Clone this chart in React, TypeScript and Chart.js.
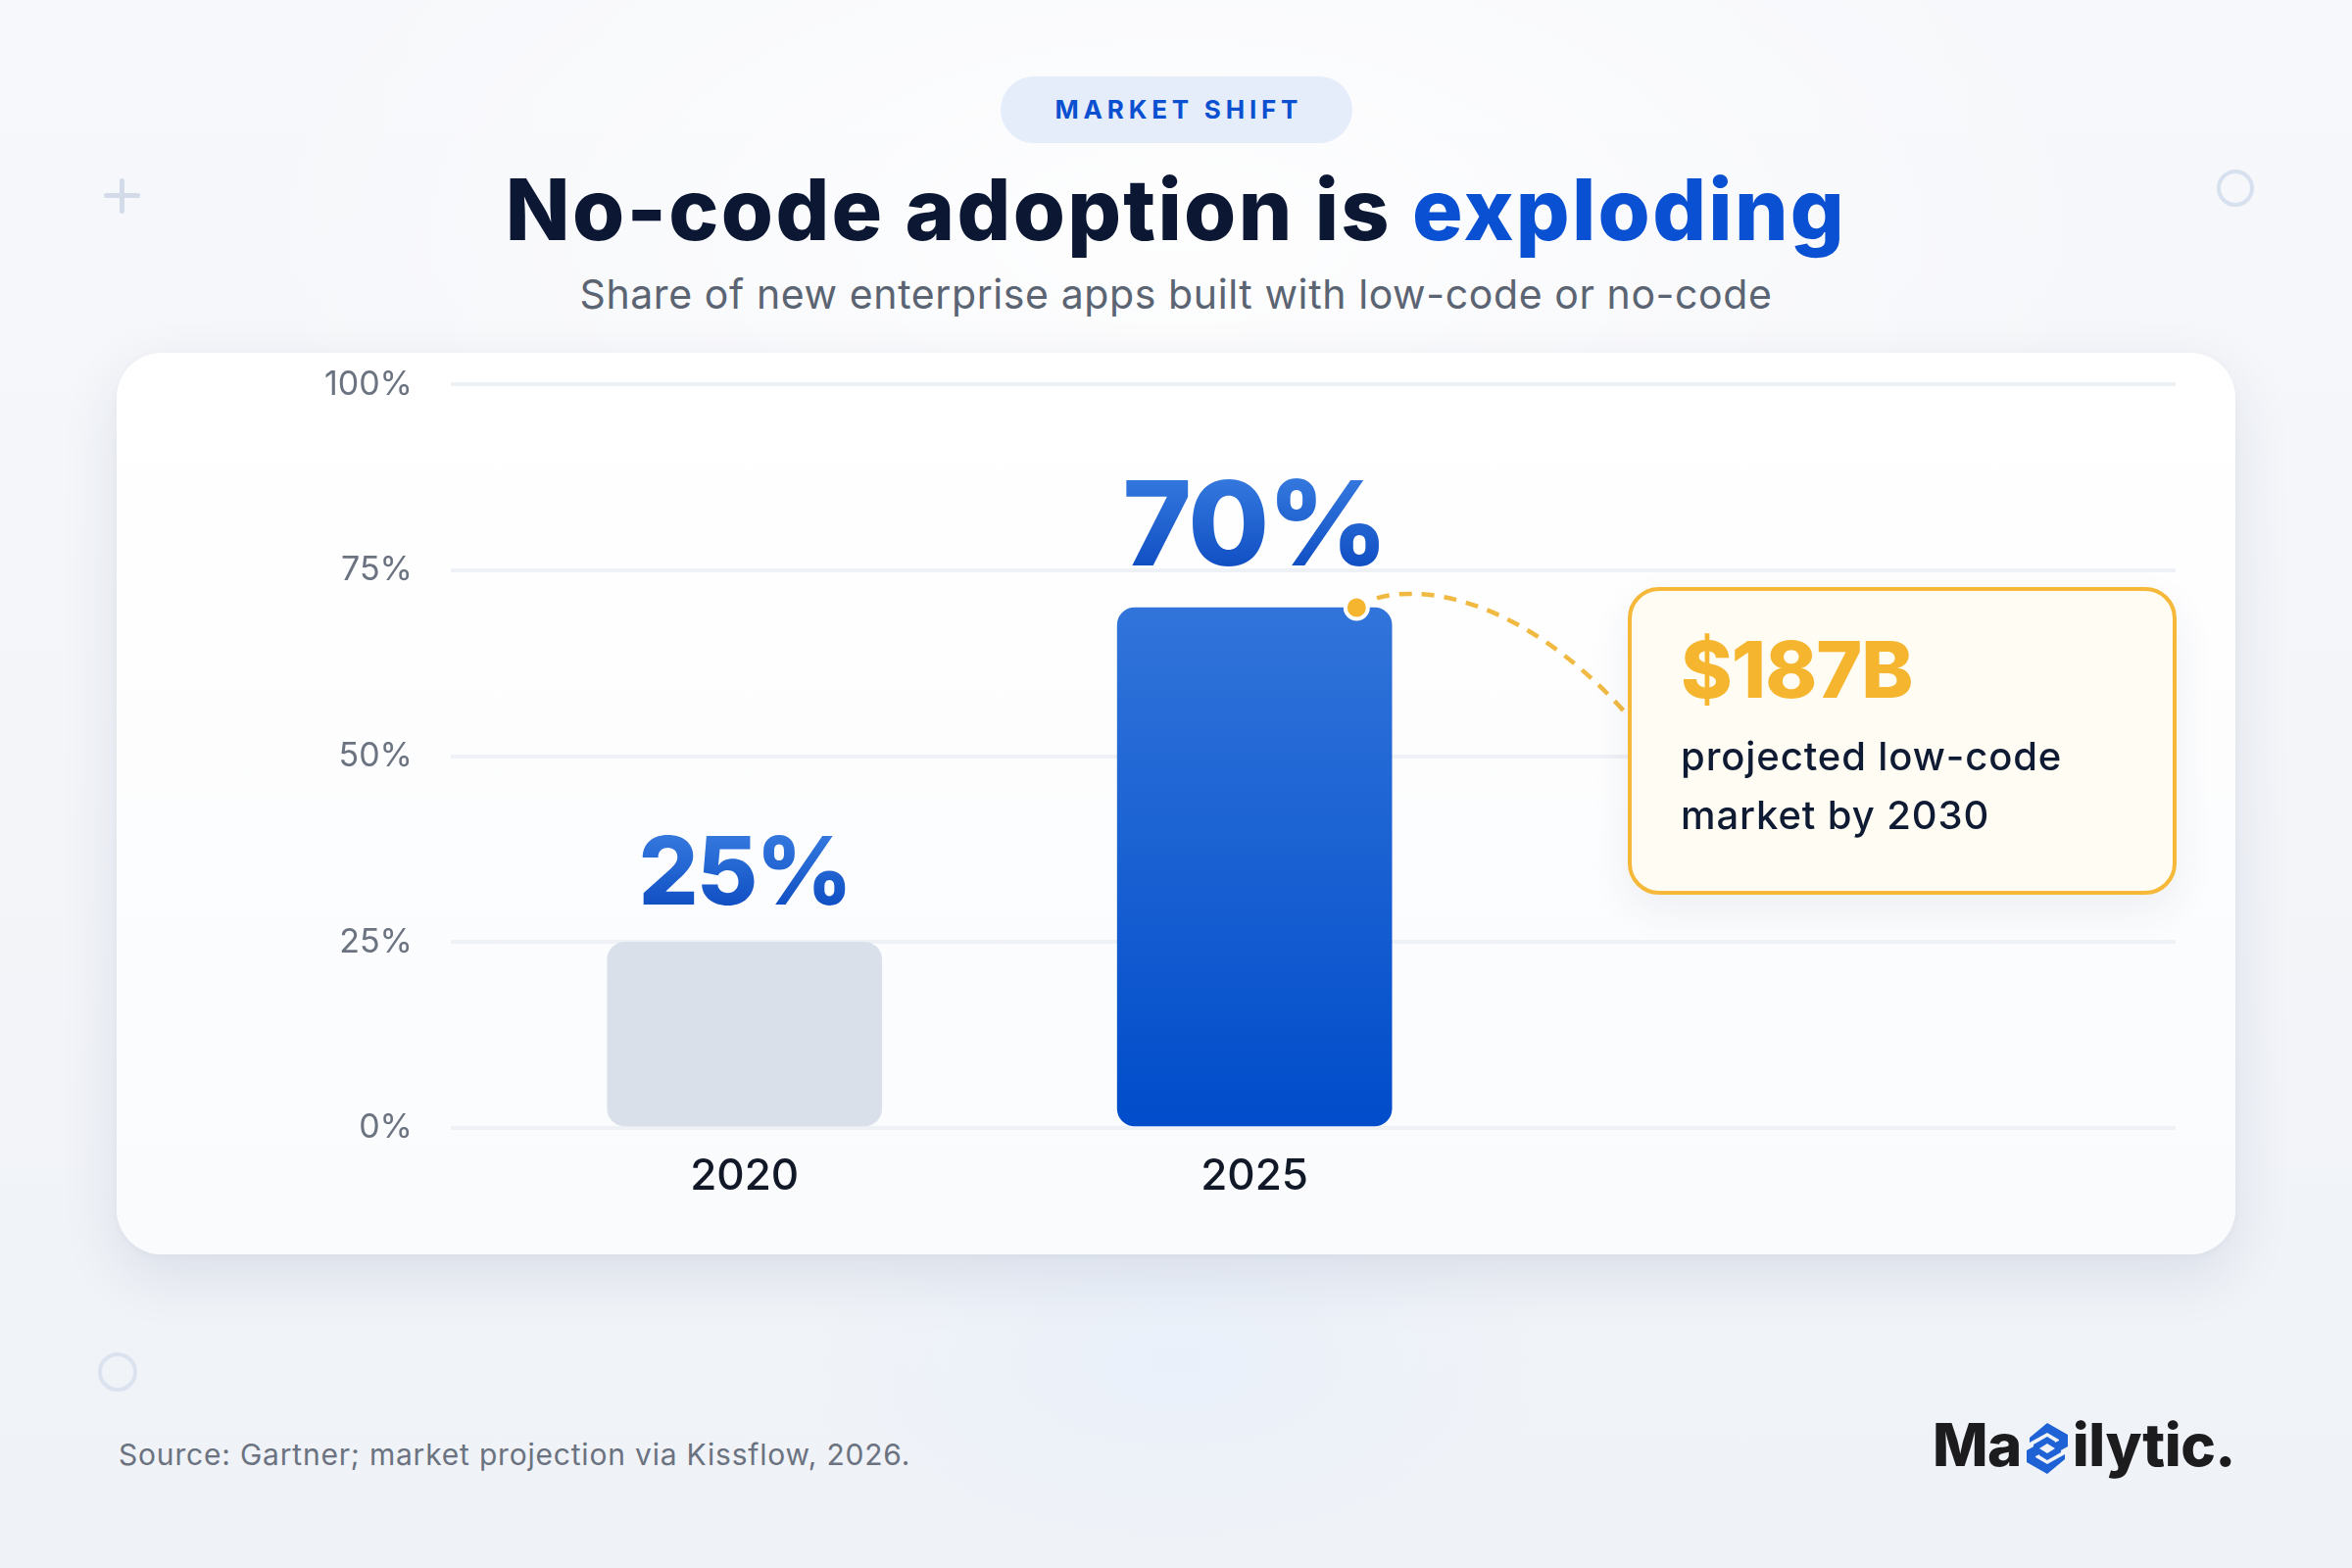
import React, { useEffect, useRef } from 'react';
import { Chart, registerables } from 'chart.js';

Chart.register(...registerables);

// ---- data ----
const years = [2020, 2025];
const yearLabels = ['2020', '2025'];
const shareOfNewApps = [25, 70];
const valueLabels = ['25%', '70%'];
const yTickValues = [0, 25, 50, 75, 100];
const xRange = [2017.12, 2034.03];
const calloutValue = '$187B';
const calloutLines = ['projected low-code', 'market by 2030'];

// ---- styles / layout ----
const FONT = 'Inter, "Noto Sans", sans-serif';
const CARD = { left: 119, top: 360, width: 2162, height: 920 };
const CANVAS = { left: 119, top: 333, width: 2162, height: 947 };
const CALLOUT = { left: 1661, top: 599, width: 560, height: 314 };
const CONNECTOR_END_Y = 730;
const valueLabelSizes = [96, 120];
const valueLabelGaps = [38, 43];

const valueLabelPlugin = {
  id: 'valueLabels',
  afterDatasetsDraw(chart: any) {
    const ctx = chart.ctx;
    const meta = chart.getDatasetMeta(0);
    meta.data.forEach((bar: any, i: number) => {
      const size = valueLabelSizes[i];
      const y = bar.y - valueLabelGaps[i];
      ctx.save();
      ctx.font = `800 ${size}px ${FONT}`;
      ctx.textAlign = 'center';
      ctx.textBaseline = 'alphabetic';
      try { ctx.letterSpacing = '-2px'; } catch (e) {}
      const g = ctx.createLinearGradient(0, y - size * 0.74, 0, y);
      g.addColorStop(0, '#3478de');
      g.addColorStop(1, '#1150c4');
      ctx.fillStyle = g;
      ctx.fillText(valueLabels[i], bar.x, y);
      ctx.restore();
    });
  },
};

const connectorPlugin = {
  id: 'connector',
  afterDatasetsDraw(chart: any) {
    const ctx = chart.ctx;
    const bar: any = chart.getDatasetMeta(0).data[1];
    if (!bar) return;
    const sx = bar.x + bar.width * 0.372;
    const sy = bar.y;
    const ex = CALLOUT.left - CANVAS.left;
    const ey = CONNECTOR_END_Y - CANVAS.top;
    ctx.save();
    ctx.beginPath();
    ctx.moveTo(sx, sy);
    ctx.bezierCurveTo(sx + 40, sy - 28, ex - 120, ey - 135, ex, ey);
    ctx.setLineDash([13, 10]);
    ctx.lineWidth = 4.5;
    ctx.strokeStyle = '#f0b942';
    ctx.stroke();
    ctx.setLineDash([]);
    ctx.beginPath();
    ctx.arc(sx, sy, 11.5, 0, Math.PI * 2);
    ctx.fillStyle = '#f5b52e';
    ctx.fill();
    ctx.lineWidth = 4;
    ctx.strokeStyle = '#ffffff';
    ctx.stroke();
    ctx.restore();
  },
};

function ChartCanvas() {
  const ref = useRef<HTMLCanvasElement | null>(null);
  useEffect(() => {
    const canvas = ref.current;
    if (!canvas) return;
    const chart = new Chart(canvas, {
      type: 'bar',
      data: {
        datasets: [
          {
            data: years.map((x, i) => ({ x, y: shareOfNewApps[i] })) as any,
            backgroundColor: (c: any) => {
              if (c.dataIndex === 0) return '#d9e0ea';
              const ch = c.chart;
              const ca = ch.chartArea;
              if (!ca) return '#1a5fd2';
              const top = ch.scales.y.getPixelForValue(shareOfNewApps[c.dataIndex]);
              const g = ch.ctx.createLinearGradient(0, top, 0, ca.bottom);
              g.addColorStop(0, '#3174da');
              g.addColorStop(1, '#004cca');
              return g;
            },
            borderRadius: 18,
            borderSkipped: false,
            barThickness: 280,
          },
        ],
      },
      options: {
        animation: false,
        responsive: false,
        devicePixelRatio: 1,
        layout: { padding: { top: 0, right: 61, left: 0, bottom: 0 } },
        plugins: { legend: { display: false }, tooltip: { enabled: false } },
        scales: {
          x: {
            type: 'linear',
            offset: false,
            min: xRange[0],
            max: xRange[1],
            grid: { display: false },
            border: { display: false },
            afterBuildTicks: (s: any) => {
              s.ticks = years.map((v) => ({ value: v }));
            },
            afterFit: (s: any) => {
              s.height = 129;
            },
            ticks: {
              padding: 15,
              autoSkip: false,
              maxRotation: 0,
              font: { size: 44, weight: 500 as any, family: FONT },
              color: '#111827',
              callback: (v: any) => {
                const i = years.indexOf(Number(v));
                return i >= 0 ? yearLabels[i] : '';
              },
            },
          },
          y: {
            min: 0,
            max: 100,
            afterBuildTicks: (s: any) => {
              s.ticks = yTickValues.map((v) => ({ value: v }));
            },
            afterFit: (s: any) => {
              s.width = 341;
            },
            grid: { color: '#eef1f6', lineWidth: 4, drawTicks: false },
            border: { display: false },
            ticks: {
              padding: 39,
              font: { size: 34, weight: 400 as any, family: FONT },
              color: '#6b7280',
              callback: (v: any) => `${v}%`,
            },
          },
        },
      },
      plugins: [valueLabelPlugin, connectorPlugin],
    });
    return () => chart.destroy();
  }, []);
  return (
    <canvas
      ref={ref}
      width={CANVAS.width}
      height={CANVAS.height}
      style={{ position: 'absolute', left: CANVAS.left, top: CANVAS.top, width: CANVAS.width, height: CANVAS.height }}
    />
  );
}

function LogoMark() {
  return (
    <svg width="48" height="54" viewBox="0 0 48 54" style={{ display: 'inline-block', verticalAlign: 'baseline', margin: '0 2px', position: 'relative', top: 9 }}>
      <path d="M24 1 L45 13 L45 25 L36 30 L36 18 L24 11 L6 21 L6 16 Z" fill="#1f62d6" />
      <path d="M10 23 L24 15 L32 20 L32 27 L24 22 L16 27 L16 33 L10 36 Z" fill="#1f62d6" />
      <path d="M24 53 L3 41 L3 29 L12 24 L12 36 L24 43 L42 33 L42 38 Z" fill="#1f62d6" />
      <path d="M38 31 L24 39 L16 34 L16 27 L24 32 L32 27 L32 21 L38 18 Z" fill="#1f62d6" />
    </svg>
  );
}

export default function App() {
  const abs = (o: any): React.CSSProperties => ({ position: 'absolute', whiteSpace: 'nowrap', margin: 0, ...o });
  return (
    <div
      style={{
        position: 'absolute',
        left: 0,
        top: 0,
        width: 2400,
        height: 1600,
        overflow: 'hidden',
        fontFamily: FONT,
        background:
          'radial-gradient(ellipse 380px 200px at 50% 1390px, rgba(233,240,250,0.9), rgba(233,240,250,0) 100%), radial-gradient(ellipse 1400px 700px at 50% 15%, rgba(255,255,255,0.85), rgba(255,255,255,0) 70%), linear-gradient(180deg, #f7f8fb 0%, #eff2f7 100%)',
      }}
    >
      {/* decorations */}
      <div style={abs({ left: 122, top: 182, width: 5, height: 36, background: '#d3dbe8', borderRadius: 3 })} />
      <div style={abs({ left: 106, top: 197, width: 37, height: 5, background: '#d3dbe8', borderRadius: 3 })} />
      <div style={abs({ left: 2262, top: 173, width: 38, height: 38, border: '4px solid #d7e0ee', borderRadius: '50%', boxSizing: 'border-box' })} />
      <div style={abs({ left: 100, top: 1380, width: 40, height: 40, border: '4px solid #dbe3f0', borderRadius: '50%', boxSizing: 'border-box' })} />

      {/* pill */}
      <div
        style={abs({
          left: 1021,
          top: 78,
          width: 359,
          height: 68,
          borderRadius: 34,
          background: '#e5edfb',
          display: 'flex',
          alignItems: 'center',
          justifyContent: 'center',
          color: '#0b50d0',
          fontWeight: 700,
          fontSize: 26,
          letterSpacing: 4.8,
          lineHeight: '26px',
        })}
      >
        <span style={{ marginRight: -4.8 }}>MARKET SHIFT</span>
      </div>

      {/* title */}
      <div
        style={abs({
          left: 0,
          width: 2400,
          top: 245 - 0.864 * 86,
          textAlign: 'center',
          fontSize: 86,
          lineHeight: '86px',
          fontWeight: 800,
          letterSpacing: 2.3,
          color: '#0b1733',
        })}
      >
        No-code adoption is <span style={{ color: '#0a50d2' }}>exploding</span>
      </div>

      {/* subtitle */}
      <div
        style={abs({
          left: 0,
          width: 2400,
          top: 315 - 0.864 * 41,
          textAlign: 'center',
          fontSize: 41,
          lineHeight: '41px',
          fontWeight: 400,
          letterSpacing: 0.6,
          color: '#5b6472',
        })}
      >
        Share of new enterprise apps built with low-code or no-code
      </div>

      {/* card */}
      <div
        style={abs({
          left: CARD.left,
          top: CARD.top,
          width: CARD.width,
          height: CARD.height,
          borderRadius: 46,
          background: 'linear-gradient(180deg, #ffffff 0%, #fafbfd 100%)',
          boxShadow: '0 22px 60px rgba(30, 50, 100, 0.10), 0 2px 8px rgba(40,60,100,0.03)',
        })}
      />
      <ChartCanvas />

      {/* callout */}
      <div
        style={abs({
          left: CALLOUT.left,
          top: CALLOUT.top,
          width: CALLOUT.width,
          height: CALLOUT.height,
          boxSizing: 'border-box',
          border: '4.5px solid #f5b838',
          borderRadius: 32,
          background: '#fffcf4',
          boxShadow: '0 16px 40px rgba(40,60,100,0.07)',
        })}
      />
      <div
        style={abs({
          left: 1715,
          top: 712 - 0.864 * 80,
          fontSize: 80,
          lineHeight: '80px',
          fontWeight: 800,
          letterSpacing: -1,
          color: '#f5b52e',
        })}
      >
        {calloutValue}
      </div>
      <div
        style={abs({
          left: 1715,
          top: 787 - ((60 - 1.21 * 40) / 2 + 0.969 * 40),
          fontSize: 40,
          lineHeight: '60px',
          fontWeight: 500,
          letterSpacing: 0.9,
          color: '#0f1a33',
        })}
      >
        {calloutLines.map((l) => (
          <div key={l}>{l}</div>
        ))}
      </div>

      {/* footer */}
      <div
        style={abs({
          left: 121,
          top: 1495 - 0.864 * 30,
          fontSize: 30,
          lineHeight: '30px',
          fontWeight: 400,
          letterSpacing: 0.8,
          color: '#6b7280',
        })}
      >
        Source: Gartner; market projection via Kissflow, 2026.
      </div>
      <div
        style={abs({
          right: 119,
          top: 1494 - 0.864 * 60,
          fontSize: 60,
          lineHeight: '60px',
          fontWeight: 800,
          letterSpacing: -0.5,
          color: '#1c1c1e',
        })}
      >
        Ma<LogoMark />ilytic.
      </div>
    </div>
  );
}
